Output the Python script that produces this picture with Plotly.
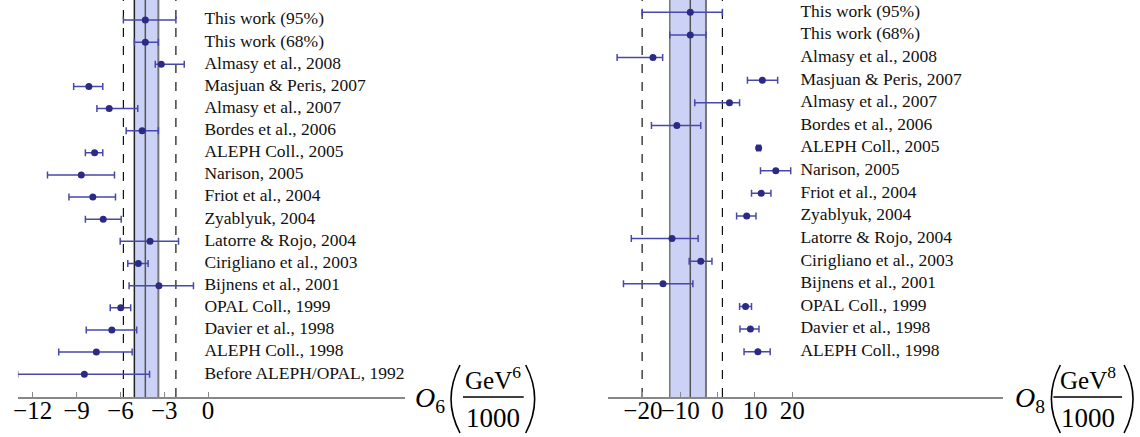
import plotly.graph_objects as go

# ---------------- data ----------------
labels_o6 = ["This work (95%)", "This work (68%)", "Almasy et al., 2008", "Masjuan & Peris, 2007",
             "Almasy et al., 2007", "Bordes et al., 2006", "ALEPH Coll., 2005", "Narison, 2005",
             "Friot et al., 2004", "Zyablyuk, 2004", "Latorre & Rojo, 2004", "Cirigliano et al., 2003",
             "Bijnens et al., 2001", "OPAL Coll., 1999", "Davier et al., 1998", "ALEPH Coll., 1998",
             "Before ALEPH/OPAL, 1992"]
o6_val = [-4.29, -4.29, -3.20, -8.15, -6.76, -4.51, -7.76, -8.67, -7.88, -7.17, -3.97, -4.77,
          -3.36, -5.97, -6.58, -7.64, -8.46]
o6_lo = [-5.79, -5.04, -3.61, -9.19, -7.60, -5.60, -8.39, -10.98, -9.51, -8.39, -6.01, -5.49,
         -5.40, -6.69, -8.33, -10.21, -13.02]
o6_hi = [-2.20, -3.40, -1.63, -7.20, -4.81, -3.40, -7.20, -6.40, -6.33, -5.94, -2.02, -4.10,
         -1.00, -5.29, -4.88, -5.19, -4.00]

labels_o8 = ["This work (95%)", "This work (68%)", "Almasy et al., 2008", "Masjuan & Peris, 2007",
             "Almasy et al., 2007", "Bordes et al., 2006", "ALEPH Coll., 2005", "Narison, 2005",
             "Friot et al., 2004", "Zyablyuk, 2004", "Latorre & Rojo, 2004", "Cirigliano et al., 2003",
             "Bijnens et al., 2001", "OPAL Coll., 1999", "Davier et al., 1998", "ALEPH Coll., 1998"]
o8_val = [-7.3, -7.3, -17.3, 12.0, 3.2, -10.9, 11.0, 15.6, 11.7, 7.8, -12.2, -4.5, -14.6, 7.5, 8.8, 10.8]
o8_lo = [-20.2, -12.8, -26.9, 8.0, -6.1, -17.7, 10.5, 11.5, 9.1, 5.1, -23.1, -7.6, -25.2, 5.9, 6.0, 7.1]
o8_hi = [1.3, -3.1, -14.7, 16.1, 5.9, -4.5, 11.5, 19.6, 14.3, 10.3, -5.2, -1.5, -6.6, 9.1, 11.1, 14.1]

o6_ticks = [-12, -9, -6, -3, 0]
o8_ticks = [-20, -10, 0, 10, 20]

# ---------------- style ----------------
FONT = "'Liberation Serif', 'Times New Roman', Times, 'DejaVu Serif', serif"
MARK = "#2b2b85"
ERR = "#4848aa"
BAND = "#cbd2f6"
W, H = 1140, 437

fig = go.Figure()


def add_panel(labels, val, lo, hi, xa, ya, label_x):
    n = len(labels)
    rows = list(range(n))
    fig.add_trace(go.Scatter(
        x=val, y=rows, mode="markers", xaxis=xa, yaxis=ya,
        marker=dict(color=MARK, size=7),
        error_x=dict(type="data", symmetric=False,
                     array=[h - v for h, v in zip(hi, val)],
                     arrayminus=[v - l for v, l in zip(val, lo)],
                     color=ERR, thickness=1.5, width=3.5),
        showlegend=False, hoverinfo="skip"))
    fig.add_trace(go.Scatter(
        x=[label_x] * n, y=rows, mode="text", text=labels, xaxis=xa, yaxis=ya,
        textposition="middle right", cliponaxis=True,
        textfont=dict(family=FONT, size=17.5, color="#111111"),
        showlegend=False, hoverinfo="skip"))
    xr = xa
    yd = ya + " domain"
    fig.add_shape(type="rect", xref=xr, yref=yd, x0=lo[1], x1=hi[1], y0=0, y1=1,
                  fillcolor=BAND, line_width=0, layer="below")
    fig.add_shape(type="line", xref=xr, yref=yd, x0=lo[1], x1=lo[1], y0=0, y1=1,
                  line=dict(color="#222222" if xa == "x" else "#777777", width=1.5), layer="below")
    fig.add_shape(type="line", xref=xr, yref=yd, x0=hi[1], x1=hi[1], y0=0, y1=1,
                  line=dict(color="#777777", width=2), layer="below")
    fig.add_shape(type="line", xref=xr, yref=yd, x0=val[0], x1=val[0], y0=0, y1=1,
                  line=dict(color="#555555", width=1.5), layer="below")
    for xv in (lo[0], hi[0]):
        fig.add_shape(type="line", xref=xr, yref=yd, x0=xv, x1=xv, y0=0, y1=1,
                      line=dict(color="#111111", width=1.2, dash="dash"), layer="below")


add_panel(labels_o6, o6_val, o6_lo, o6_hi, "x", "y", -0.25)
add_panel(labels_o8, o8_val, o8_lo, o8_hi, "x2", "y2", 22.2)

axis_common = dict(showgrid=False, zeroline=False, showline=True, linecolor="#888888", linewidth=1.5,
                   ticks="inside", ticklen=5, tickcolor="#888888", tickwidth=1, tickangle=0,
                   ticklabelstandoff=-10,
                   tickfont=dict(family=FONT, size=25, color="black"))

fig.update_layout(
    width=W, height=H, margin=dict(l=0, r=0, t=0, b=0),
    paper_bgcolor="white", plot_bgcolor="white",
    font=dict(family=FONT),
    xaxis=dict(domain=[13 / W, 402 / W], range=[-13.0, 13.48], tickvals=o6_ticks,
               anchor="y", **axis_common),
    yaxis=dict(domain=[(H - 397) / H, 1], range=[17.03, -0.903], visible=False, anchor="x"),
    xaxis2=dict(domain=[606 / W, 1002 / W], range=[-29.25, 76.35], tickvals=o8_ticks,
                anchor="y2", **axis_common),
    yaxis2=dict(domain=[(H - 397) / H, 1], range=[17.0, -0.544], visible=False, anchor="x2"),
)


def px(x):
    return x / W


def py(y):
    return 1 - y / H


def axis_label(sub, o_left, paren_l, bar_l, bar_r, paren_r):
    fig.add_annotation(xref="paper", yref="paper", x=px(o_left), y=py(399), xanchor="left",
                       yanchor="middle", showarrow=False,
                       text="<i>O</i><sub>%s</sub>" % sub,
                       font=dict(family=FONT, size=28, color="black"))
    cx = (bar_l + bar_r) / 2
    fig.add_annotation(xref="paper", yref="paper", x=px(cx), y=py(378), xanchor="center",
                       yanchor="middle", showarrow=False,
                       text="GeV<sup>%s</sup>" % sub,
                       font=dict(family=FONT, size=25, color="black"))
    fig.add_annotation(xref="paper", yref="paper", x=px(cx), y=py(418), xanchor="center",
                       yanchor="middle", showarrow=False, text="1000",
                       font=dict(family=FONT, size=27, color="black"))
    fig.add_shape(type="line", xref="paper", yref="paper", x0=px(bar_l), x1=px(bar_r),
                  y0=py(397), y1=py(397), line=dict(color="black", width=1.5))
    fig.add_shape(type="path", xref="paper", yref="paper",
                  path="M %f,%f Q %f,%f %f,%f" % (px(paren_l + 10), py(365), px(paren_l - 8), py(399),
                                                   px(paren_l + 10), py(433)),
                  line=dict(color="black", width=1.6))
    fig.add_shape(type="path", xref="paper", yref="paper",
                  path="M %f,%f Q %f,%f %f,%f" % (px(paren_r - 10), py(365), px(paren_r + 8), py(399),
                                                   px(paren_r - 10), py(433)),
                  line=dict(color="black", width=1.6))


axis_label("6", 410, 447, 460, 521, 533)
axis_label("8", 1012, 1050, 1053, 1122, 1134)

fig.write_html("out.html")
